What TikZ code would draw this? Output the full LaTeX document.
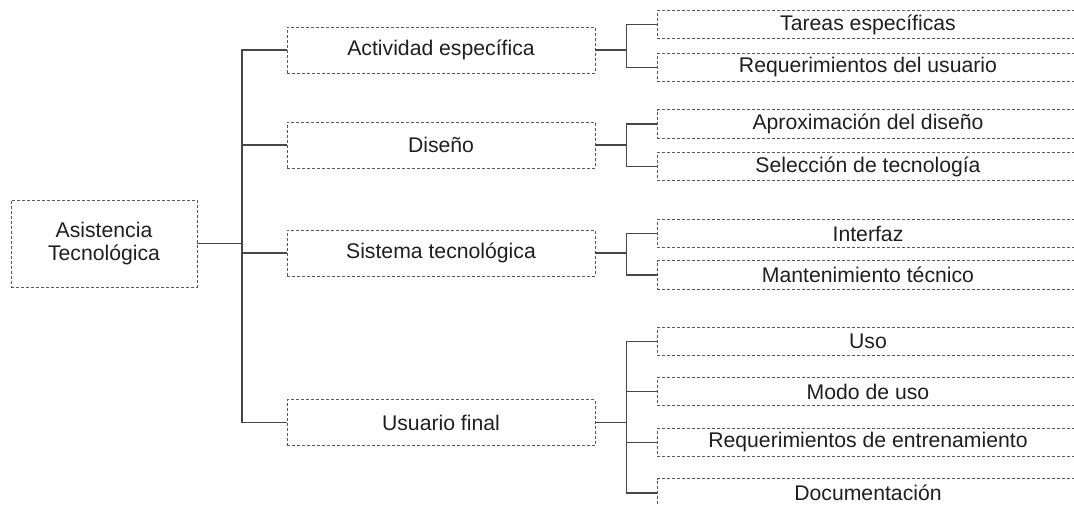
\documentclass[tikz,border=0pt]{standalone}
\usepackage{fontspec}
\setmainfont{Liberation Sans}
\begin{document}
\begin{tikzpicture}[x=1pt,y=-1pt,
  box/.style={draw=black!65, dash pattern=on 3pt off 2pt, line width=0.9pt,
    inner sep=0pt, align=center, text=black!88,
    font=\fontsize{21.2}{23.5}\selectfont},
  rootbox/.style={box, minimum width=186pt, minimum height=87pt},
  midbox/.style={box, minimum width=308pt, minimum height=46pt},
  leafbox/.style={box, minimum width=422pt, minimum height=28.5pt},
  link/.style={draw=black!72, line width=1.1pt}]
\useasboundingbox (0,0) rectangle (1074,506);
\clip (0,0) rectangle (1074,506);

% root
\node[rootbox] (root) at (104,243.5) {Asistencia\\Tecnológica};

% second level
\node[midbox] (act) at (441,50)  {Actividad específica};
\node[midbox] (dis) at (441,145) {Diseño};
\node[midbox] (sis) at (441,253) {Sistema tecnológica};
\node[midbox] (usr) at (441,422.5) {Usuario final};

% leaves
\node[leafbox] (l1)  at (868,24.5)  {Tareas específicas};
\node[leafbox] (l2)  at (868,67.5){Requerimientos del usuario};
\node[leafbox] (l3)  at (868,124) {Aproximación del diseño};
\node[leafbox] (l4)  at (868,166.5) {Selección de tecnología};
\node[leafbox] (l5)  at (868,233.5) {Interfaz};
\node[leafbox] (l6)  at (868,275) {Mantenimiento técnico};
\node[leafbox] (l7)  at (868,341.5) {Uso};
\node[leafbox] (l8)  at (868,391.5) {Modo de uso};
\node[leafbox] (l9)  at (868,442.5) {Requerimientos de entrenamiento};
\node[leafbox] (l10) at (868,493) {Documentación};

% main trunk
\coordinate (t) at (242,243.5);
\draw[link] (root.east) -- (t);
\draw[link] (act.west) -| (t |- usr.west) -- (usr.west);
\draw[link] (dis.west) -- (dis.west -| t);
\draw[link] (sis.west) -- (sis.west -| t);

% sub-branches
\foreach \m/\a/\b in {act/l1/l2, dis/l3/l4, sis/l5/l6, usr/l7/l10}{
  \draw[link] (\m.east) -- ++(31,0) coordinate (j-\m);
  \draw[link] (\a.west) -| (j-\m |- \b.west) -- (\b.west);
}
\draw[link] (l8.west) -- (l8.west -| j-usr);
\draw[link] (l9.west) -- (l9.west -| j-usr);
\end{tikzpicture}
\end{document}
